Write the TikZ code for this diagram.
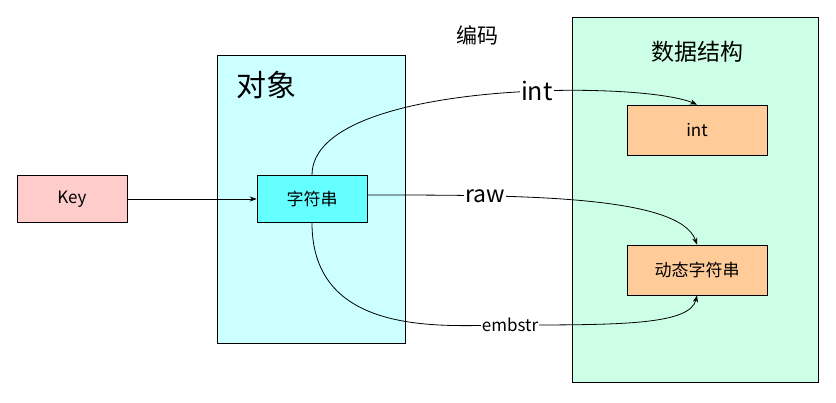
\documentclass[tikz,border=0pt]{standalone}
\usepackage{fontspec}
\setmainfont{Noto Sans CJK SC}
\usetikzlibrary{arrows.meta,positioning}
\definecolor{keyred}{HTML}{FFCCCC}
\definecolor{objcyan}{HTML}{CCFFFF}
\definecolor{strcyan}{HTML}{66FFFF}
\definecolor{dsgreen}{HTML}{CCFFE6}
\definecolor{encorange}{HTML}{FFCC99}
\tikzset{
    panel/.style = {
        draw, thick, anchor=north west, inner sep=0pt,
        },
    box/.style = {
        draw, thick, minimum width=110pt, minimum height=47pt,
        font=\fontsize{17}{17}\selectfont,
        },
    enc box/.style = {
        box, fill=encorange, minimum width=140pt, minimum height=50pt,
        },
    link/.style = {
        -{Stealth[length=7pt]}, thick,
        },
    link label/.style = {
        fill=white, inner sep=1pt,
        },
}
\begin{document}
\begin{tikzpicture}[x=1pt, y=-1pt]
            \useasboundingbox (0,0) rectangle (836,402);
            \node [panel, fill=objcyan, minimum width=188pt, minimum height=288pt] (obj) at (217,55) {};
            \node [panel, fill=dsgreen, minimum width=246pt, minimum height=365pt] (ds) at (572,17) {};
            \node [font=\fontsize{30}{30}\selectfont] (objlabel) at (266,85) {对象};
            \node [font=\fontsize{23}{23}\selectfont] (dslabel) at (697,52) {数据结构};
            \node [font=\fontsize{21}{21}\selectfont] (enclabel) at (477,35) {编码};

            \node [box, fill=keyred] (key) at (72,199) {Key};
            \node [box, fill=strcyan] (str) at (312,199) {字符串};
            \node [enc box] (int) at (697,130) {int};
            \node [enc box] (sds) at (697,270) {动态字符串};

            \draw [link] (key) -- (str);
            \draw [link] (str.north) .. controls (312,80) and (640,80) .. (int.north)
                node [pos=0.6, link label, font=\fontsize{25}{25}\selectfont] {int};
            \draw [link] (str.east) ++(0,-4) .. controls (520,195) and (680,195) .. (sds.north)
                node [pos=0.26, link label, font=\fontsize{23}{23}\selectfont] {raw};
            \draw [link] (str.south) .. controls (312,340) and (450,325) .. (510,325)
                node [link label, font=\fontsize{17}{17}\selectfont] {embstr}
                .. controls (620,325) and (690,325) .. (sds.south);
\end{tikzpicture}
\end{document}
